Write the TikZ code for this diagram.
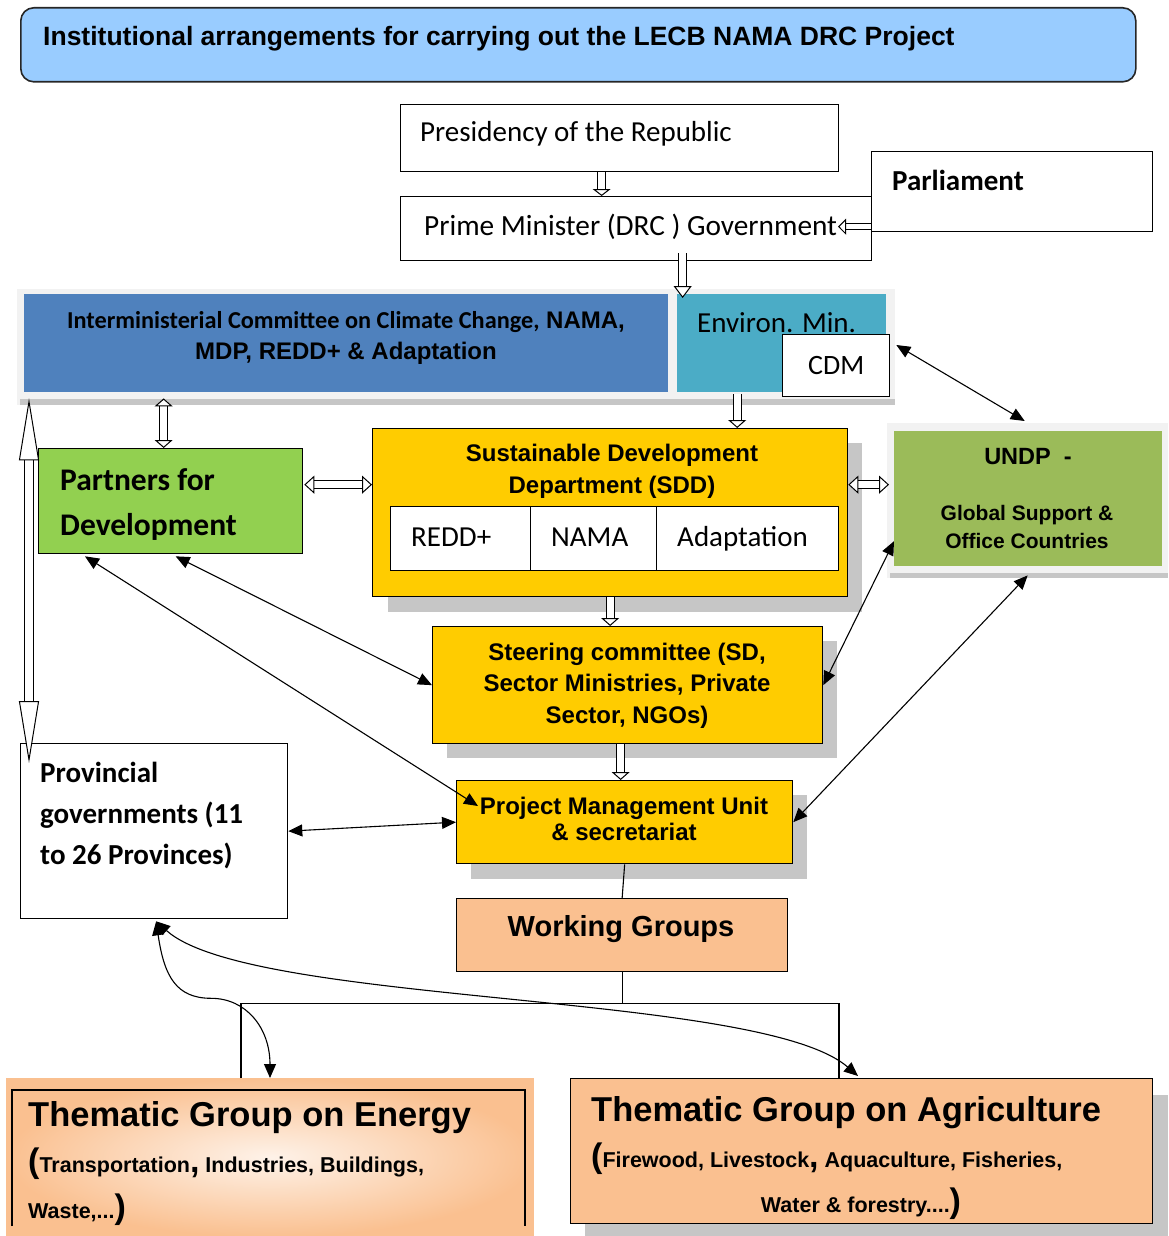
\documentclass[tikz,border=0pt]{standalone}
\usepackage{fontspec}
\setmainfont{Liberation Sans}
\newfontfamily\calibri{Carlito}
\usetikzlibrary{
  positioning, arrows.meta, calc,
}
\definecolor{cTitle}    {HTML}{99CCFF}
\definecolor{cCommittee}{HTML}{4F81BD}
\definecolor{cEnviron}  {HTML}{4BACC6}
\definecolor{cPartner}  {HTML}{92D050}
\definecolor{cGold}     {HTML}{FFCC00}
\definecolor{cUndp}     {HTML}{9BBB59}
\definecolor{cPeach}    {HTML}{FAC090}
\definecolor{cShade}    {HTML}{C6C6C6}
\definecolor{cFrame}    {HTML}{F2F2F2}
\newcommand{\fsz}[2]{\fontsize{#1}{#2}\selectfont}

\begin{document}
\begin{tikzpicture}[x=1pt, y=-1pt,
    box/.style={draw, line width=1.3pt, inner sep=0pt, anchor=north west},
    pane/.style={inner sep=0pt, anchor=north west},
    txt/.style={inner sep=0pt},
    hollow/.style={double, double distance=7pt, line width=1pt},
    link/.style={line width=1.1pt, {Triangle[width=12pt,length=14pt]}-{Triangle[width=12pt,length=14pt]}},
  ]
  \useasboundingbox (0,0) rectangle (1168,1236);
  % title banner
  \node[box, draw=black!85, line width=1.6pt, rounded corners=13pt, fill=cTitle,
        minimum width=1115pt, minimum height=74pt] (title) at (20,7) {};
  \node[txt, anchor=base west, font=\bfseries\fsz{26.5}{30}] (titletxt) at (43,46)
    {Institutional arrangements for carrying out the LECB NAMA DRC Project};
  % government
  \node[box, minimum width=438pt, minimum height=67pt] (pres) at (400,104) {};
  \node[txt, anchor=base west, font=\calibri\fsz{29}{34}] (prestxt) at (420,142) {Presidency of the Republic};
  \node[box, minimum width=471pt, minimum height=64pt] (pm) at (400,196) {};
  \node[txt, anchor=base west, font=\calibri\fsz{29.3}{34}] (pmtxt) at (424,235) {Prime Minister (DRC ) Government};
  \node[box, minimum width=281pt, minimum height=80pt] (parl) at (871,151) {};
  \node[txt, anchor=base west, font=\calibri\bfseries\fsz{29}{34}] (parltxt) at (892,190) {Parliament};
  % committee band
  \node[pane, fill=cFrame, minimum width=878pt, minimum height=116pt] (band) at (17,289) {};
  \fill[cShade] (20,399) rectangle (895,405);
  \node[pane, fill=cCommittee, minimum width=644pt, minimum height=98pt] (cmt) at (24,294) {};
  \node[txt, align=center, anchor=base, font=\bfseries\fsz{24}{31}] (cmttxt) at (346,359)
    {{\calibri\fsz{24.3}{31}Interministerial Committee on Climate Change,} NAMA,\\MDP, REDD+ \& Adaptation};
  \node[pane, fill=cEnviron, minimum width=209pt, minimum height=98pt] (env) at (677,294) {};
  \node[txt, anchor=base west, font=\calibri\fsz{29}{34}] (envtxt) at (697,332) {Environ. Min.};
  \node[box, fill=white, minimum width=107pt, minimum height=62pt, font=\calibri\fsz{28}{34}] (cdm) at (782,334) {CDM};
  % partners
  \node[box, fill=cPartner, minimum width=264pt, minimum height=105pt] (partners) at (38,448) {};
  \node[txt, align=left, anchor=base west, font=\calibri\bfseries\fsz{31.5}{45}] (partnerstxt) at (60,535)
    {Partners for\\Development};
  % sustainable development department
  \node[pane, fill=cShade, minimum width=474pt, minimum height=169pt] (sddshadow) at (388,443) {};
  \node[box, fill=cGold, minimum width=475pt, minimum height=168pt] (sdd) at (372,428) {};
  \node[txt, align=center, anchor=base, font=\bfseries\fsz{24}{32}] (sddtxt) at (612,493)
    {Sustainable Development\\Department (SDD)};
  \node[box, fill=white, minimum width=140pt, minimum height=64pt] (redd) at (390,506) {};
  \node[box, fill=white, minimum width=126pt, minimum height=64pt] (nama) at (530,506) {};
  \node[box, fill=white, minimum width=182pt, minimum height=64pt] (adapt) at (656,506) {};
  \node[txt, anchor=base west, font=\calibri\fsz{29}{34}] (reddtxt) at (411,546) {REDD+};
  \node[txt, anchor=base west, font=\calibri\fsz{29}{34}] (namatxt) at (551,546) {NAMA};
  \node[txt, anchor=base west, font=\calibri\fsz{29}{34}] (adapttxt) at (677,546) {Adaptation};
  % UNDP
  \node[pane, fill=cFrame, minimum width=281pt, minimum height=155pt] (undpband) at (887,423) {};
  \fill[cShade] (890,573) rectangle (1168,578);
  \node[pane, fill=cUndp, minimum width=268pt, minimum height=135pt] (undp) at (894,431) {};
  \node[txt, anchor=base, font=\bfseries\fsz{23.5}{28}] (undptxt) at (1028,464) {UNDP\ \ -};
  \node[txt, align=center, anchor=base, font=\bfseries\fsz{21}{28}] (undpsub) at (1027,548)
    {Global Support \&\\Office Countries};
  % steering committee and PMU
  \node[pane, fill=cShade, minimum width=390pt, minimum height=117pt] (steershadow) at (447,641) {};
  \node[box, fill=cGold, minimum width=390pt, minimum height=117pt] (steer) at (432,626) {};
  \node[txt, align=center, anchor=base, font=\bfseries\fsz{24}{31.5}] (steertxt) at (627,723)
    {Steering committee (SD,\\Sector Ministries, Private\\Sector, NGOs)};
  \node[pane, fill=cShade, minimum width=336pt, minimum height=84pt] (pmushadow) at (471,795) {};
  \node[box, fill=cGold, minimum width=336pt, minimum height=83pt] (pmu) at (456,780) {};
  \node[txt, align=center, anchor=base, font=\bfseries\fsz{24}{26}] (pmutxt) at (624,840)
    {Project Management Unit\\\& secretariat};
  \node[box, fill=white, minimum width=267pt, minimum height=175pt] (prov) at (20,743) {};
  \node[txt, align=left, anchor=base west, font=\calibri\bfseries\fsz{29}{41}] (provtxt) at (40,864)
    {Provincial\\governments (11\\to 26 Provinces)};
  \node[box, fill=cPeach, minimum width=331pt, minimum height=73pt] (wg) at (456,898) {};
  \node[txt, anchor=base, font=\bfseries\fsz{29}{34}] (wgtxt) at (621,936) {Working Groups};
  % thematic groups
  \node[pane, draw=cPeach, line width=1pt, inner color=cPeach!20, outer color=cPeach,
        minimum width=527pt, minimum height=158pt] (energy) at (6,1078) {};
  \draw[line width=1.3pt] (12,1226) |- (525,1090) -- (525,1226);
  \node[txt, anchor=base west, font=\bfseries\fsz{34.5}{40}] (energytxt) at (28,1126) {Thematic Group on Energy};
  \node[txt, anchor=base west, font=\bfseries\fsz{21.5}{24}] (energysub) at (28,1172)
    {{\fsz{34}{40}(}Transportation{\fsz{34}{40},} Industries, Buildings,};
  \node[txt, anchor=base west, font=\bfseries\fsz{21.5}{24}] (energysubb) at (28,1218) {Waste,...{\fsz{34}{40})}};
  \node[pane, fill=cShade, minimum width=583pt, minimum height=141pt] (agrishadow) at (585,1095) {};
  \node[box, fill=cPeach, minimum width=582pt, minimum height=145pt] (agri) at (570,1078) {};
  \node[txt, anchor=base west, font=\bfseries\fsz{34.5}{40}] (agritxt) at (591,1121) {Thematic Group on Agriculture};
  \node[txt, anchor=base west, font=\bfseries\fsz{21.5}{24}] (agrisub) at (591,1167)
    {{\fsz{34}{40}(}Firewood, Livestock{\fsz{34}{40},} Aquaculture, Fisheries,};
  \node[txt, anchor=base, font=\bfseries\fsz{21.5}{24}] (agrisubb) at (861,1212) {Water \& forestry....{\fsz{34}{40})}};

  % hollow block arrows
  \draw[hollow, -{Triangle[fill=white,line width=1pt,width=18pt,length=7pt]}]
    ([xshift=-18pt]pres.south) -- ([xshift=-18pt]pres.south |- pm.north);
  \draw[hollow, double distance=5pt, -{Triangle[fill=white,line width=1pt,width=16pt,length=8pt]}]
    ([yshift=-35pt]parl.west) -- ([xshift=-33pt,yshift=-35pt]parl.west);
  \draw[hollow, -{Triangle[fill=white,line width=1pt,width=18pt,length=12pt]}]
    ($(pm.south)+(46.5,-8)$) -- ($(pm.south |- env.north)+(46.5,4)$);
  \draw[hollow, {Triangle[fill=white,line width=1pt,width=18pt,length=8pt]}-{Triangle[fill=white,line width=1pt,width=18pt,length=8pt]}]
    ($(partners.north |- band.south)+(-7,-7)$) -- ($(partners.north)+(-7,0)$);
  \draw[hollow, -{Triangle[fill=white,line width=1pt,width=18pt,length=8pt]}]
    ($(env.south)+(-44.5,2)$) -- ($(env.south |- sdd.north)+(-44.5,0)$);
  \draw[hollow, {Triangle[fill=white,line width=1pt,width=18pt,length=10pt]}-{Triangle[fill=white,line width=1pt,width=18pt,length=10pt]}]
    ($(partners.east)+(1,-16.5)$) -- ($(partners.east -| sdd.west)+(0,-16.5)$);
  \draw[hollow, {Triangle[fill=white,line width=1pt,width=18pt,length=10pt]}-{Triangle[fill=white,line width=1pt,width=18pt,length=10pt]}]
    ($(sdd.east)+(0,-28)$) -- ($(sdd.east -| undpband.west)+(2,-28)$);
  \draw[hollow, -{Triangle[fill=white,line width=1pt,width=18pt,length=8pt]}]
    (sdd.south) -- (sdd.south |- steer.north);
  \draw[hollow, -{Triangle[fill=white,line width=1pt,width=18pt,length=8pt]}]
    ($(steer.south)+(-7,0)$) -- ($(steer.south |- pmu.north)+(-7,0)$);
  \draw[hollow, double distance=8pt, {Triangle[fill=white,line width=1pt,width=20pt,length=62pt]}-{Triangle[fill=white,line width=1pt,width=20pt,length=62pt]}]
    ($(band.south west)+(12,-7)$) -- ($(prov.north west)+(9,20)$);

  % relations
  \draw[link] ($(cdm.north east)+(6,11)$) -- ($(undpband.north)+(-3,-2)$);
  \draw[link] (steer.east) -- ($(undp.west)+(0,42.5)$);
  \draw[link] ($(partners.south)+(5,2)$) -- (steer.west);
  \draw[link] ($(partners.south west)+(47,2)$) -- ($(pmu.north west)+(22,26)$);
  \draw[link] (pmu.east) -- ($(undpband.south)+(0,-3)$);
  \draw[link] (prov.east) -- (pmu.west);

  % working group tree
  \draw[line width=1.1pt] (pmu.south) -- (wg.north);
  \coordinate (fork) at ($(wg.south)+(0,31)$);
  \draw[line width=1.3pt] (wg.south) -- (fork);
  \draw[line width=1.3pt] ($(energy.north west)+(235,0)$) |- (fork) -| ($(agri.north west)+(269,0)$);
  \draw[link] ($(prov.south)+(2,2)$) .. controls +(8,55) and +(-35,0) .. ($(prov.south)+(57,79)$)
    .. controls +(35,0) and +(0,-50) .. ($(energy.north west)+(264,0)$);
  \draw[link] ($(prov.south)+(2,2)$) .. controls +(95,85) and +(-98,-85) .. ($(agri.north west)+(288,-2)$);
\end{tikzpicture}
\end{document}
